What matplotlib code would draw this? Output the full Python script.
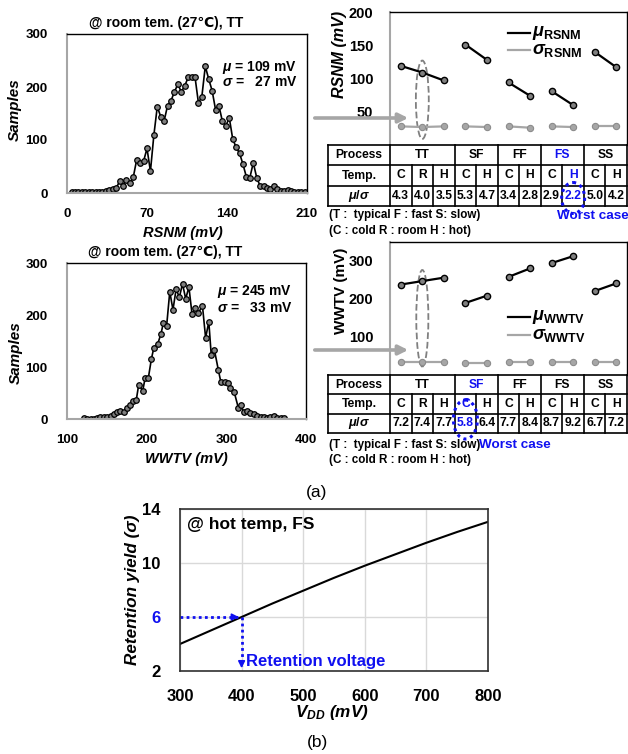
import matplotlib
matplotlib.use('Agg')
import matplotlib.pyplot as plt
from matplotlib.patches import Ellipse, FancyArrowPatch

plt.rcParams.update({
    'font.family': ['Liberation Sans', 'DejaVu Sans'],
    'font.weight': 'bold',
    'mathtext.fontset': 'custom',
    'mathtext.rm': 'Liberation Sans:bold',
    'mathtext.it': 'Liberation Sans:italic:bold',
    'mathtext.bf': 'Liberation Sans:bold',
})

# ── Data ───────────────────────────────────────────────────────────
rsnm_mv = [4, 7, 10, 13, 16, 19, 22, 25, 28, 31, 34, 37, 40, 43, 46, 49, 52, 55,
           58, 61, 64, 67, 70, 73, 76, 79, 82, 85, 88, 91, 94, 97, 100, 103, 106,
           109, 112, 115, 118, 121, 124, 127, 130, 133, 136, 139, 142, 145, 148,
           151, 154, 157, 160, 163, 166, 169, 172, 175, 178, 181, 184, 187, 190,
           193, 196, 199, 202, 205, 208]
rsnm_count = [1, 1, 1, 1, 1, 2, 2, 2, 1, 2, 4, 6, 8, 9, 22, 14, 24, 19,
              30, 63, 56, 60, 84, 41, 109, 163, 144, 136, 165, 174, 191, 205, 191, 202, 218,
              219, 219, 170, 182, 239, 215, 193, 157, 164, 135, 127, 142, 102, 86,
              75, 54, 30, 29, 57, 29, 13, 14, 10, 8, 14, 7, 4, 4,
              5, 3, 2, 2, 2, 2]

wwtv_mv = [121, 125, 130, 134, 138, 142, 146, 150, 155, 159, 163, 167, 171, 175,
           179, 183, 187, 190, 195, 198, 202, 206, 209, 214, 218, 221, 225, 229,
           233, 237, 241, 245, 249, 253, 257, 261, 265, 270, 274, 278, 281, 285,
           290, 293, 298, 302, 305, 310, 315, 318, 322, 326, 330, 335, 339, 343,
           347, 351, 355, 360, 364, 368, 373]
wwtv_count = [2, 0, 0, 0, 1, 3, 3, 4, 6, 9, 13, 16, 14, 22,
              26, 35, 37, 66, 54, 78, 78, 116, 137, 145, 164, 185, 178, 245,
              210, 250, 234, 260, 231, 254, 201, 213, 204, 218, 156, 187, 124, 133,
              94, 72, 72, 70, 59, 51, 22, 26, 14, 15, 11, 9, 6, 4,
              3, 2, 4, 6, 2, 1, 2]

groups = ['TT', 'SF', 'FF', 'FS', 'SS']
group_sizes = [3, 2, 2, 2, 2]
temps = ['C', 'R', 'H', 'C', 'H', 'C', 'H', 'C', 'H', 'C', 'H']

rsnm_mu = [119, 109, 97, 151, 128, 94, 74, 81, 60, 140, 117]
rsnm_sigma = [28, 27, 28, 28, 27, 28, 26, 28, 27, 28, 28]
rsnm_ratio = [4.3, 4.0, 3.5, 5.3, 4.7, 3.4, 2.8, 2.9, 2.2, 5.0, 4.2]

wwtv_mu = [236, 245, 254, 188, 207, 256, 278, 292, 310, 219, 239]
wwtv_sigma = [33, 33, 33, 32, 32, 33, 33, 34, 34, 33, 33]
wwtv_ratio = [7.2, 7.4, 7.7, 5.8, 6.4, 7.7, 8.4, 8.7, 9.2, 6.7, 7.2]

vdd_mv = [300, 350, 400, 450, 500, 550, 600, 650, 700, 750, 800]
retention_sigma = [4.0, 5.0, 6.0, 7.0, 7.95, 8.9, 9.8, 10.65, 11.5, 12.3, 13.05]

BLUE = '#1010F0'
GRAY = '#A6A6A6'
W, H = 628, 754

fig = plt.figure(figsize=(W / 100, H / 100), dpi=100)


def px_axes(x0, y0, x1, y1):
    return fig.add_axes([x0 / W, 1 - y1 / H, (x1 - x0) / W, (y1 - y0) / H])


def ftext(x, y, s, **kw):
    kw.setdefault('va', 'center')
    return fig.text(x / W, 1 - y / H, s, **kw)


def style_spines(ax, bottom=True):
    ax.spines['left'].set_color(GRAY)
    ax.spines['left'].set_linewidth(1.5)
    ax.spines['bottom'].set_color(GRAY)
    ax.spines['bottom'].set_linewidth(1.5)
    ax.spines['bottom'].set_visible(bottom)
    for s in ('top', 'right'):
        ax.spines[s].set_color('black')
        ax.spines[s].set_linewidth(1.0)


# ── Histograms ─────────────────────────────────────────────────────
def draw_hist(box, xs, counts, xlim, xticks):
    ax = px_axes(*box)
    ax.plot(xs, counts, color='black', lw=1.2, marker='o', ms=4.0,
            mfc='#7f7f7f', mec='black', mew=0.9)
    ax.set_xlim(*xlim)
    ax.set_ylim(0, 300)
    ax.set_xticks(xticks)
    ax.set_yticks([0, 100, 200, 300])
    ax.tick_params(length=0, labelsize=9.5)
    ax.tick_params(axis='y', pad=14)
    ax.tick_params(axis='x', pad=11)
    style_spines(ax)
    return ax


draw_hist((67, 34, 307, 193), rsnm_mv, rsnm_count, (0, 210), [0, 70, 140, 210])
ftext(166, 23, '@ room tem. (27\u2103), TT', ha='center', fontsize=10)
ftext(222, 68, r'$\mu$ = 109 mV', ha='left', fontsize=10)
ftext(222, 82, r'$\sigma$ =   27 mV', ha='left', fontsize=10)
ftext(15, 110, 'Samples', rotation=90, ha='center', fontsize=11, style='italic')
ftext(183, 233, 'RSNM (mV)', ha='center', fontsize=10.5, style='italic')

draw_hist((67, 263, 306, 419), wwtv_mv, wwtv_count, (100, 400), [100, 200, 300, 400])
ftext(165, 252, '@ room tem. (27\u2103), TT', ha='center', fontsize=10)
ftext(217, 291, r'$\mu$ = 245 mV', ha='left', fontsize=10)
ftext(217, 308, r'$\sigma$ =   33 mV', ha='left', fontsize=10)
ftext(16, 353, 'Samples', rotation=90, ha='center', fontsize=11, style='italic')
ftext(186, 459, 'WWTV (mV)', ha='center', fontsize=10.5, style='italic')


# ── Process/temperature trend charts ───────────────────────────────
def draw_trend(box, mu, sigma, ylim, yticks, leg_rows, tag, dash_ell):
    ax = px_axes(*box)
    start = 0
    for n in group_sizes:
        idx = list(range(start, start + n))
        ax.plot(idx, [sigma[i] for i in idx], color=GRAY, lw=1.6, marker='o',
                ms=4.5, mfc=GRAY, mec='#8C8C8C', mew=0.8)
        ax.plot(idx, [mu[i] for i in idx], color='black', lw=1.6, marker='o',
                ms=4.5, mfc='#808080', mec='black', mew=1.0)
        start += n
    ax.set_xlim(-0.5, len(temps) - 0.5)
    ax.set_ylim(*ylim)
    ax.set_xticks([])
    ax.set_yticks(yticks)
    ax.tick_params(length=0, labelsize=10.5, pad=12)
    style_spines(ax, bottom=False)
    for yy, col, sym in zip(leg_rows, ['black', GRAY], [r'\mu', r'\sigma']):
        ax.plot([0.498, 0.591], [yy, yy], transform=ax.transAxes, color=col, lw=1.6)
        ax.text(0.6, yy, r'$%s_{\mathbf{%s}}$' % (sym, tag), transform=ax.transAxes,
                va='center', ha='left', fontsize=13)
    cx, cy, ew, eh = dash_ell
    ax.add_patch(Ellipse((cx, cy), ew, eh, fill=False, ec='#808080', lw=1.3, ls='--'))
    return ax


draw_trend((390, 12, 627, 145), rsnm_mu, rsnm_sigma, (0, 200), [50, 100, 150, 200],
           (0.842, 0.714), 'RSNM', (1, 68, 0.6, 118))
ftext(339, 54, 'RSNM (mV)', rotation=90, ha='center', fontsize=11.5, style='italic')

draw_trend((390, 242, 627, 375), wwtv_mu, wwtv_sigma, (0, 347), [100, 200, 300],
           (0.438, 0.30), 'WWTV', (1, 148, 0.56, 252))
ftext(341, 291, 'WWTV (mV)', rotation=90, ha='center', fontsize=11)


# ── Tables ─────────────────────────────────────────────────────────
def draw_table(box, ratios, hl_group, hl_col, ell):
    ax = px_axes(*box)
    w, h = box[2] - box[0], box[3] - box[1]
    ax.set_xlim(0, w)
    ax.set_ylim(h, 0)
    ax.axis('off')
    head = 62
    cw = (w - head) / len(temps)
    rh = h / 3
    lw = 1.2
    for r in range(4):
        ax.plot([0, w], [r * rh, r * rh], color='black', lw=lw, clip_on=False)
    ax.plot([0, 0], [0, h], color='black', lw=lw, clip_on=False)
    ax.plot([head, head], [0, h], color='black', lw=lw, clip_on=False)
    col = 0
    bounds = []
    for n in group_sizes:
        col += n
        bounds.append(col)
    for c in range(1, len(temps) + 1):
        x = head + c * cw
        y0 = 0 if c in bounds else rh
        ax.plot([x, x], [y0, h], color='black', lw=lw, clip_on=False)
    fs = 8.7
    ax.text(head / 2, rh / 2, 'Process', ha='center', va='center', fontsize=fs)
    ax.text(head / 2, 1.5 * rh, 'Temp.', ha='center', va='center', fontsize=fs)
    ax.text(head / 2, 2.5 * rh, r'$\mu/\sigma$', ha='center', va='center', fontsize=fs + 0.5)
    start = 0
    for gi, (g, n) in enumerate(zip(groups, group_sizes)):
        xc = head + (start + n / 2) * cw
        ax.text(xc, rh / 2, g, ha='center', va='center', fontsize=fs,
                color=BLUE if gi == hl_group else 'black')
        start += n
    for i, (t, r) in enumerate(zip(temps, ratios)):
        xc = head + (i + 0.5) * cw
        c = BLUE if i == hl_col else 'black'
        ax.text(xc, 1.5 * rh, t, ha='center', va='center', fontsize=fs, color=c)
        ax.text(xc, 2.5 * rh, '%.1f' % r, ha='center', va='center', fontsize=fs, color=c)
    ecy, ew, eh = ell
    ax.add_patch(Ellipse((head + (hl_col + 0.5) * cw, ecy), ew, eh, fill=False,
                         ec=BLUE, lw=2.2, ls=(0, (1, 1.3)), clip_on=False, zorder=5))
    return ax


draw_table((328, 145, 627, 206), rsnm_ratio, 3, 8, (53, 23, 31))
ftext(329, 215, '(T :  typical F : fast S: slow)', ha='left', fontsize=8.4)
ftext(329, 231, '(C : cold R : room H : hot)', ha='left', fontsize=8.4)
ftext(557, 216, 'Worst case', ha='left', fontsize=9.7, color=BLUE)

draw_table((328, 375, 627, 433), wwtv_ratio, 1, 3, (44.5, 24, 39))
ftext(329, 445, '(T :  typical F : fast S: slow)', ha='left', fontsize=8.4)
ftext(329, 460, '(C : cold R : room H : hot)', ha='left', fontsize=8.4)
ftext(479, 445, 'Worst case', ha='left', fontsize=9.7, color=BLUE)

# gray arrows from histograms to trend charts
for yy in (118, 350):
    fig.add_artist(FancyArrowPatch((312 / W, 1 - yy / H), (411 / W, 1 - yy / H),
                                   transform=fig.transFigure, arrowstyle='-|>',
                                   mutation_scale=14, lw=2.6, color=GRAY))

ftext(317, 492, '(a)', ha='center', fontsize=12.5, fontweight='normal')

# ── Panel (b): retention yield ─────────────────────────────────────
axb = px_axes(180, 509, 488, 671)
axb.plot(vdd_mv, retention_sigma, color='black', lw=1.5)
axb.set_xlim(300, 800)
axb.set_ylim(2, 14)
axb.set_xticks([300, 400, 500, 600, 700, 800])
axb.set_yticks([2, 6, 10, 14])
axb.grid(color='#D9D9D9', lw=1.0)
axb.set_axisbelow(True)
axb.tick_params(length=0, labelsize=12)
axb.tick_params(axis='y', pad=14)
axb.tick_params(axis='x', pad=13)
axb.get_yticklabels()[1].set_color(BLUE)
for s in axb.spines.values():
    s.set_color('#303030')
    s.set_linewidth(1.2)
axb.plot([300, 395], [6, 6], color=BLUE, lw=2, ls=(0, (1, 1.2)))
axb.plot([400, 400], [6, 2.4], color=BLUE, lw=2, ls=(0, (1, 1.2)))
axb.annotate('', xy=(400, 6), xytext=(388, 6),
             arrowprops=dict(arrowstyle='-|>', color=BLUE, lw=1.2, mutation_scale=10))
axb.annotate('', xy=(400, 2), xytext=(400, 2.7),
             arrowprops=dict(arrowstyle='-|>', color=BLUE, lw=1.2, mutation_scale=10))
axb.text(407, 2.68, 'Retention voltage', color=BLUE, fontsize=12, va='center', ha='left')
ftext(187, 524, '@ hot temp, FS', ha='left', fontsize=12.5)
ftext(133, 590, 'Retention yield (\u03c3)', rotation=90, ha='center', fontsize=12.3,
      style='italic')
ftext(332, 713, r'V$_{\mathregular{DD}}$ (mV)', ha='center', fontsize=12.3, style='italic')
ftext(317, 743, '(b)', ha='center', fontsize=12.5, fontweight='normal')

fig.savefig('out.png', dpi=100)
